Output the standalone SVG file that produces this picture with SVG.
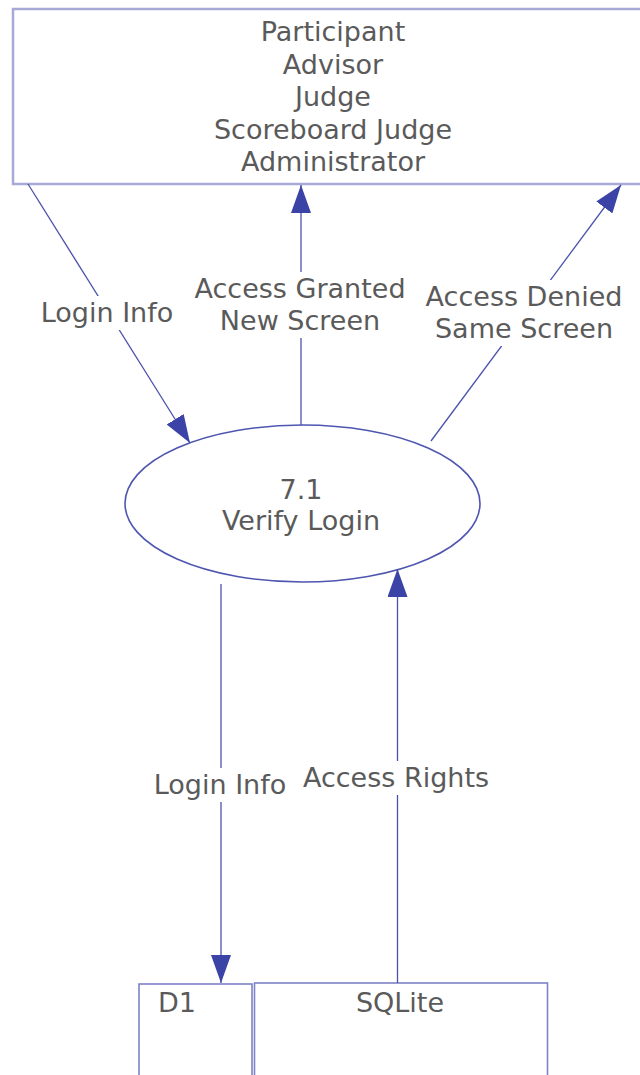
<svg xmlns="http://www.w3.org/2000/svg" width="640" height="1075" viewBox="0 0 640 1075">
<style>
text{font-family:"DejaVu Sans",Verdana,sans-serif;font-size:27px;fill:#5a5a5a;text-anchor:middle}
.conn{stroke:#4a52ac;stroke-width:1.3;fill:none}
.lbg{fill:#fff}
.box{fill:#fff;stroke:#a6aad6;stroke-width:2.5}
.store{fill:#fff;stroke:#7c83c6;stroke-width:1.6}
</style>
<defs>
<marker id="arr" viewBox="0 0 28 20" refX="28" refY="10" markerWidth="28" markerHeight="20" markerUnits="userSpaceOnUse" orient="auto">
<path d="M0,0 L28,10 L0,20 Z" fill="#3b44a6"/>
</marker>
</defs>
<rect width="640" height="1075" fill="#fff"/>
<g id="entity">
<rect class="box" x="13" y="9" width="645" height="175"/>
<text x="333" y="41">Participant</text>
<text x="333" y="73.5">Advisor</text>
<text x="333" y="106">Judge</text>
<text x="333" y="138.5">Scoreboard Judge</text>
<text x="333" y="171">Administrator</text>
</g>
<g id="process">
<ellipse cx="302.5" cy="503.5" rx="177.5" ry="78.5" fill="#fff" stroke="#4e56b0" stroke-width="1.6"/>
<text x="301" y="499">7.1</text>
<text x="301" y="530">Verify Login</text>
</g>
<g id="datastore">
<rect class="store" x="139" y="984" width="113" height="110"/>
<rect class="store" x="254.5" y="983" width="293" height="110"/>
<text x="177" y="1012">D1</text>
<text x="400" y="1012">SQLite</text>
</g>
<g id="connectors">
<line class="conn" x1="28" y1="184" x2="190" y2="443" marker-end="url(#arr)"/>
<line class="conn" x1="301" y1="425" x2="301" y2="185" marker-end="url(#arr)"/>
<line class="conn" x1="431" y1="441" x2="621" y2="185" marker-end="url(#arr)"/>
<line class="conn" x1="221" y1="584" x2="221" y2="983" marker-end="url(#arr)"/>
<line class="conn" x1="397.5" y1="983" x2="397.5" y2="569" marker-end="url(#arr)"/>
<rect class="lbg" x="36" y="296" width="144" height="34"/>
<rect class="lbg" x="192" y="272" width="216" height="66"/>
<rect class="lbg" x="424" y="280" width="200" height="66"/>
<rect class="lbg" x="148" y="768" width="144" height="34"/>
<rect class="lbg" x="300" y="761" width="192" height="34"/>
<text x="107" y="322">Login Info</text>
<text x="300" y="298">Access Granted</text>
<text x="300" y="330">New Screen</text>
<text x="524" y="306">Access Denied</text>
<text x="524" y="338">Same Screen</text>
<text x="220" y="794">Login Info</text>
<text x="396" y="787">Access Rights</text>
</g>
</svg>
